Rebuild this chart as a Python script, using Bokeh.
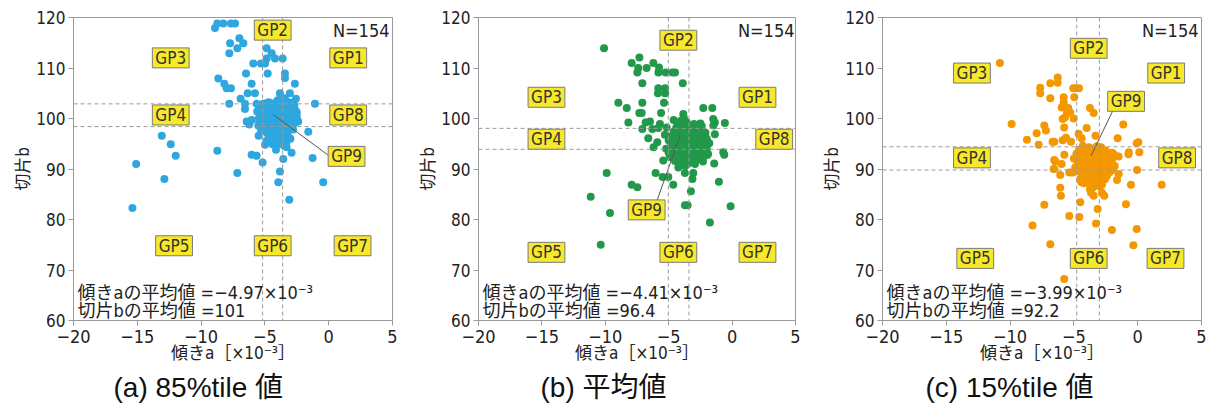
from bokeh.plotting import figure
from bokeh.models import Label, Span, Range1d, FixedTicker, Title
from bokeh.layouts import row
from bokeh.embed import file_html
from bokeh.resources import INLINE

NARROW = "'Liberation Sans Narrow', 'DejaVu Sans Condensed', 'Noto Sans CJK JP', sans-serif"
CAPF = "'Liberation Sans', Arial, 'Noto Sans CJK JP', sans-serif"

x_ticks = [-20, -15, -10, -5, 0, 5]
x_tick_labels = ["\u221220", "\u221215", "\u221210", "\u22125", "0", "5"]
y_ticks = [60, 70, 80, 90, 100, 110, 120]
gp_names = ["GP1", "GP2", "GP3", "GP4", "GP5", "GP6", "GP7", "GP8", "GP9"]

# ---------------- panel (a) 85%tile ----------------
a_points = [
    (-8.91, 117.9), (-8.73, 118.8), (-8.26, 118.8), (-7.66, 118.8), (-7.34, 118.8),
    (-7.73, 114.9), (-7.0, 115.9), (-6.69, 114.9), (-7.79, 112.9), (-7.16, 113.9),
    (-4.86, 113.9), (-4.47, 112.9), (-4.21, 111.9), (-3.61, 111.9), (-4.86, 111.9),
    (-5.91, 110.9), (-5.31, 110.9), (-4.99, 110.9), (-6.48, 108.9), (-4.78, 108.9),
    (-3.43, 108.9), (-3.43, 108.0), (-8.65, 107.9), (-8.18, 106.9), (-8.0, 106.0),
    (-7.66, 106.0), (-6.04, 106.9), (-2.65, 106.9), (-6.35, 105.0), (-5.78, 105.0),
    (-3.82, 105.0), (-3.04, 105.0), (-3.48, 104.0), (-6.9, 103.9), (-2.57, 103.9),
    (-7.79, 102.9), (-6.56, 102.9), (-5.65, 102.9), (-5.13, 102.9), (-6.56, 101.9),
    (-5.39, 101.9), (-1.08, 102.9), (-6.43, 99.4), (-6.22, 98.8), (-6.04, 99.7),
    (-5.52, 98.6), (-5.49, 96.6), (-2.39, 99.4), (-1.6, 97.4), (-1.26, 92.2),
    (-0.43, 87.4), (-13.08, 96.6), (-12.38, 94.9), (-11.99, 92.6), (-15.09, 91.0),
    (-12.88, 88.0), (-15.38, 82.3), (-8.73, 93.6), (-7.16, 89.2), (-6.04, 92.8),
    (-5.65, 92.6), (-5.18, 91.3), (-4.99, 94.8), (-4.13, 94.8), (-4.13, 93.8),
    (-3.56, 92.0), (-2.91, 93.2), (-3.82, 89.5), (-3.95, 87.4), (-3.09, 83.9),
    (-3.3, 94.3), (-4.86, 95.6),
    (-4.7, 103.2), (-4.3, 103.0), (-3.9, 103.3), (-3.5, 102.8), (-3.0, 103.1), (-2.7, 102.6),
    (-5.0, 102.4), (-4.5, 102.2), (-4.1, 102.5), (-3.7, 102.1), (-3.3, 102.4), (-2.9, 102.0),
    (-2.6, 101.6), (-4.8, 101.7), (-4.4, 101.5), (-4.0, 101.8), (-3.6, 101.4), (-3.2, 101.7),
    (-2.8, 101.3), (-5.2, 101.1), (-4.6, 100.9), (-4.2, 101.0), (-3.8, 100.7), (-3.4, 100.9),
    (-3.0, 100.6), (-2.6, 100.8), (-5.4, 100.4), (-5.0, 100.2), (-4.6, 100.3), (-4.3, 100.0),
    (-3.9, 100.2), (-3.5, 99.9), (-3.1, 100.1), (-2.7, 99.7), (-5.2, 99.5), (-4.8, 99.6),
    (-4.4, 99.3), (-4.0, 99.5), (-3.6, 99.2), (-3.2, 99.4), (-2.9, 98.9), (-5.4, 98.8),
    (-5.0, 98.9), (-4.6, 98.6), (-4.2, 98.8), (-3.8, 98.5), (-3.4, 98.7), (-3.0, 98.2),
    (-5.1, 98.1), (-4.7, 97.9), (-4.3, 98.1), (-3.9, 97.8), (-3.5, 97.9), (-3.2, 97.5),
    (-4.9, 97.3), (-4.5, 97.1), (-4.1, 97.4), (-3.7, 97.0), (-3.4, 97.2), (-4.7, 96.5),
    (-4.3, 96.3), (-3.9, 96.6), (-3.6, 96.2), (-3.2, 96.5), (-4.5, 95.7), (-4.0, 95.5),
    (-3.7, 95.8), (-3.3, 95.4), (-4.4, 94.9), (-3.9, 95.0), (-3.5, 94.6), (-2.8, 97.8),
    (-2.7, 99.0), (-5.5, 99.9), (-5.3, 97.6), (-4.0, 103.6), (-3.3, 103.4), (-2.5, 101.2),
    (-2.5, 100.3), (-3.0, 96.0), (-5.6, 101.4), (-4.9, 103.0),
]
a_vlines = [-5.18, -3.61]
a_hlines = [102.9, 98.4]
a_gp_x = [1.53, -4.39, -12.38, -12.38, -12.12, -4.39, 1.87, 1.53, 1.40]
a_gp_y = [112.0, 117.5, 112.0, 100.7, 74.8, 74.8, 74.8, 100.7, 92.5]
a_leader = (0.09, 92.5, -4.34, 100.75)
a_mean_a = "\u22124.97"
a_mean_b = "101"
a_caption = "(a) 85%tile 値"

# ---------------- panel (b) mean ----------------
b_points = [
    (-10.1, 113.9), (-7.92, 111.0), (-7.31, 112.1), (-7.4, 110.0), (-7.47, 109.1), (-6.74, 110.0),
    (-6.21, 111.0), (-5.76, 110.1), (-5.81, 109.1), (-5.24, 109.1), (-4.71, 109.1), (-4.5, 109.1),
    (-7.08, 107.0), (-3.89, 107.0), (-5.82, 106.0), (-5.28, 106.0), (-5.85, 105.0), (-5.28, 105.0),
    (-8.97, 103.1), (-8.31, 102.1), (-7.08, 103.1), (-5.37, 103.1), (-7.32, 101.1), (-7.13, 101.1),
    (-5.6, 101.1), (-8.18, 99.2), (-6.82, 99.2), (-6.48, 99.4), (-5.69, 98.9), (-5.16, 98.2),
    (-4.61, 99.7), (-3.85, 100.9), (-3.85, 99.9), (-7.08, 97.9), (-6.29, 97.9), (-5.82, 98.1),
    (-6.61, 96.1), (-6.19, 94.3), (-5.9, 95.3), (-2.27, 102.1), (-1.56, 102.1), (-1.49, 99.9),
    (-1.36, 99.2), (-1.48, 98.6), (-0.57, 99.1), (-1.36, 96.9), (-0.7, 93.3), (-0.62, 92.8),
    (-1.41, 91.1), (-1.04, 87.5), (-1.93, 92.8), (-2.14, 92.6), (-2.93, 91.0), (-3.06, 89.2),
    (-3.13, 88.0), (-3.25, 85.6), (-3.72, 82.8), (-3.51, 82.8), (-1.75, 79.4), (-0.12, 82.6),
    (-5.43, 91.7), (-6.03, 89.2), (-5.48, 88.4), (-5.03, 88.4), (-4.64, 86.9), (-3.72, 89.2),
    (-4.24, 90.3), (-9.89, 89.2), (-7.92, 86.9), (-7.47, 86.4), (-11.15, 84.5), (-9.63, 81.3),
    (-10.36, 75.0),
    (-4.0, 99.6), (-3.6, 99.3), (-3.9, 98.8), (-3.2, 98.6), (-2.8, 98.3), (-2.4, 98.5),
    (-4.4, 98.2), (-4.0, 97.9), (-3.6, 98.1), (-3.2, 97.7), (-2.8, 97.5), (-2.4, 97.8),
    (-2.1, 97.2), (-4.6, 97.4), (-4.2, 97.1), (-3.8, 97.3), (-3.4, 96.9), (-3.0, 97.0),
    (-2.6, 96.7), (-2.2, 96.5), (-4.8, 96.5), (-4.4, 96.3), (-4.0, 96.6), (-3.6, 96.2),
    (-3.2, 96.4), (-2.8, 96.0), (-2.4, 95.8), (-2.0, 96.0), (-5.0, 95.7), (-4.6, 95.5),
    (-4.2, 95.8), (-3.8, 95.4), (-3.4, 95.6), (-3.0, 95.2), (-2.6, 95.3), (-2.2, 94.9),
    (-4.8, 94.8), (-4.4, 94.6), (-4.0, 94.9), (-3.6, 94.5), (-3.2, 94.7), (-2.8, 94.3),
    (-2.4, 94.5), (-2.0, 94.1), (-5.2, 94.0), (-4.6, 93.8), (-4.2, 94.1), (-3.8, 93.6),
    (-3.4, 93.9), (-3.0, 93.5), (-2.6, 93.7), (-2.2, 93.3), (-4.4, 93.0), (-4.0, 92.8),
    (-3.6, 93.1), (-3.2, 92.7), (-2.8, 92.9), (-2.4, 92.5), (-4.2, 92.2), (-3.8, 91.9),
    (-3.4, 92.3), (-3.0, 91.8), (-2.6, 92.0), (-4.0, 91.3), (-3.5, 91.0), (-3.1, 91.4),
    (-4.5, 91.6), (-3.7, 90.6), (-5.3, 96.8), (-5.0, 93.2), (-1.8, 95.1), (-1.9, 93.0),
    (-3.0, 98.9), (-3.8, 100.1), (-4.9, 92.4), (-2.3, 91.5), (-4.3, 99.2), (-2.5, 99.0),
]
b_vlines = [-5.03, -3.40]
b_hlines = [98.05, 93.9]
b_gp_x = [2.0, -4.24, -14.64, -14.64, -14.64, -4.24, 2.0, 3.32, -6.74]
b_gp_y = [104.2, 115.5, 104.2, 95.9, 73.5, 73.5, 73.5, 95.9, 81.9]
b_leader = (-5.9, 83.9, -4.11, 96.6)
b_mean_a = "\u22124.41"
b_mean_b = "96.4"
b_caption = "(b)  平均値"

# ---------------- panel (c) 15%tile ----------------
c_points = [
    (-10.8, 111.0), (-9.88, 98.9), (-8.68, 95.8), (-7.92, 97.1), (-7.76, 94.8), (-7.64, 106.1),
    (-7.64, 105.0), (-7.32, 98.6), (-7.19, 97.6), (-6.85, 107.0), (-6.85, 104.0), (-6.67, 95.4),
    (-6.54, 95.4), (-6.27, 108.1), (-6.27, 107.1), (-5.8, 104.2), (-5.8, 103.2), (-5.96, 102.2),
    (-5.44, 102.1), (-5.29, 101.2), (-5.54, 101.1), (-5.7, 100.2), (-5.02, 100.0), (-5.88, 99.9),
    (-4.97, 104.2), (-4.84, 106.0), (-4.6, 106.0), (-5.05, 106.0), (-3.74, 102.1), (-3.45, 101.1),
    (-5.76, 98.2), (-5.62, 96.2), (-5.88, 95.7), (-5.23, 95.4), (-4.63, 97.0), (-4.0, 98.1),
    (-4.39, 96.1), (-1.13, 98.8), (-1.57, 96.1), (-0.08, 95.1), (0.05, 95.3), (-0.7, 93.3),
    (-0.72, 92.9), (0.13, 93.3), (-0.05, 89.8), (-6.54, 91.8), (-6.45, 91.5), (-6.53, 90.0),
    (-6.59, 90.0), (-5.96, 91.0), (-5.75, 92.8), (-6.07, 88.8), (-6.07, 86.3), (-6.02, 84.7),
    (-7.32, 82.9), (-8.24, 78.8), (-6.85, 75.1), (-5.76, 68.2), (-5.36, 80.7), (-4.5, 83.4),
    (-4.58, 80.5), (-3.14, 82.1), (-3.27, 79.2), (-2.02, 77.9), (-0.08, 78.1), (-0.34, 74.9),
    (-0.92, 83.0), (-0.53, 86.9), (1.88, 86.9), (-1.62, 87.8), (-1.49, 89.0), (-3.74, 86.0),
    (-3.66, 85.3), (-3.45, 84.7), (-2.8, 85.3), (-2.62, 84.7), (-5.36, 89.3), (-5.1, 89.3),
    (-4.45, 87.7), (-3.3, 96.6), (-2.87, 94.3), (-1.5, 92.5), (-1.9, 92.9),
    (-4.3, 94.6), (-3.8, 94.3), (-3.2, 94.5), (-2.8, 94.0), (-4.6, 93.8), (-4.0, 93.6),
    (-3.5, 93.9), (-3.0, 93.4), (-2.5, 93.6), (-2.0, 93.2), (-4.8, 93.0), (-4.3, 92.8),
    (-3.8, 93.0), (-3.3, 92.6), (-2.8, 92.8), (-2.3, 92.4), (-1.8, 92.7), (-5.0, 92.1),
    (-4.5, 91.9), (-4.0, 92.2), (-3.5, 91.8), (-3.0, 92.0), (-2.5, 91.6), (-2.0, 91.9),
    (-4.7, 91.1), (-4.2, 91.3), (-3.7, 90.9), (-3.2, 91.1), (-2.7, 90.8), (-2.2, 91.0),
    (-1.8, 90.6), (-4.9, 90.3), (-4.4, 90.5), (-3.9, 90.1), (-3.4, 90.3), (-2.9, 89.9),
    (-2.4, 90.2), (-2.0, 89.8), (-4.6, 89.5), (-4.1, 89.7), (-3.6, 89.3), (-3.1, 89.5),
    (-2.6, 89.1), (-2.2, 89.4), (-4.3, 88.8), (-3.8, 88.6), (-3.3, 88.9), (-2.8, 88.5),
    (-2.4, 88.7), (-4.5, 88.0), (-4.0, 87.8), (-3.5, 88.1), (-3.0, 87.7), (-2.6, 87.9),
    (-4.2, 87.2), (-3.7, 87.0), (-3.2, 87.3), (-2.8, 86.9), (-3.5, 86.4), (-3.0, 86.6),
    (-3.9, 89.0), (-3.4, 89.8), (-2.9, 91.4), (-3.6, 92.4), (-4.1, 90.8), (-2.5, 88.3),
    (-3.2, 88.2), (-3.7, 88.3), (-2.7, 90.3), (-4.4, 87.4),
]
c_vlines = [-4.78, -3.00]
c_hlines = [94.4, 89.8]
c_gp_x = [2.23, -3.84, -12.99, -12.99, -12.73, -3.84, 2.18, 3.09, -0.91]
c_gp_y = [109.0, 113.9, 109.0, 92.2, 72.3, 72.3, 72.3, 92.2, 103.4]
c_leader = (-1.96, 101.5, -3.66, 92.6)
c_mean_a = "\u22123.99"
c_mean_b = "92.2"
c_caption = "(c) 15%tile 値"

n_text = "N=154"


def make_panel(points, color, vlines, hlines, gp_x, gp_y, leader, mean_a, mean_b,
               caption, cap_offset, total_width, border_left, border_right):
    p = figure(width=total_width, height=414, min_border_left=border_left,
               min_border_right=border_right, min_border_top=17, min_border_bottom=94,
               x_range=Range1d(-20, 5), y_range=Range1d(60, 120),
               output_backend="svg", toolbar_location=None)
    p.grid.visible = False
    p.outline_line_color = "#9a9a9a"
    p.background_fill_color = "white"
    for ax in (p.xaxis[0], p.yaxis[0]):
        ax.axis_line_color = "#9a9a9a"
        ax.major_tick_line_color = "#9a9a9a"
        ax.minor_tick_line_color = None
        ax.major_tick_out = 5
        ax.major_tick_in = 0
        ax.major_label_text_font = NARROW
        ax.major_label_text_font_size = "18px"
        ax.major_label_text_color = "#222222"
        ax.axis_label_text_font = NARROW
        ax.axis_label_text_font_size = "17px"
        ax.axis_label_text_font_style = "normal"
        ax.axis_label_text_color = "#222222"
    p.xaxis.ticker = FixedTicker(ticks=x_ticks)
    p.xaxis.major_label_overrides = {t: s for t, s in zip(x_ticks, x_tick_labels)}
    p.xaxis.major_label_standoff = 4
    p.xaxis.axis_label = "傾きa［×10⁻³］"
    p.xaxis.axis_label_standoff = -3
    p.yaxis.ticker = FixedTicker(ticks=y_ticks)
    p.yaxis.major_label_text_font_size = "17px"
    p.yaxis.major_label_standoff = 3
    p.yaxis.axis_label = "切片b"
    p.yaxis.axis_label_text_font_size = "17px"
    p.yaxis.axis_label_standoff = 0

    for v in vlines:
        p.add_layout(Span(location=v, dimension="height", line_color="#9a9a9a",
                          line_dash="4 3", line_width=1))
    for h in hlines:
        p.add_layout(Span(location=h, dimension="width", line_color="#9a9a9a",
                          line_dash="4 3", line_width=1))

    xs = [q[0] for q in points]
    ys = [q[1] for q in points]
    p.scatter(xs, ys, size=8, color=color, line_color=None)

    p.segment(x0=[leader[0]], y0=[leader[1]], x1=[leader[2]], y1=[leader[3]],
              line_color="#555555", line_width=1)

    for name, gx, gy in zip(gp_names, gp_x, gp_y):
        p.add_layout(Label(x=gx, y=gy, text=name, text_align="center",
                           text_baseline="middle", text_font=NARROW,
                           text_font_size="17px", text_color="#333333",
                           background_fill_color="#f7e82a",
                           border_line_color="#7a7a7a", border_line_width=1,
                           padding=(3, 0)))

    p.add_layout(Label(x=316, y=301, x_units="screen", y_units="screen", text=n_text,
                       text_align="right", text_baseline="top", text_font=NARROW,
                       text_font_size="18px", text_color="#222222"))
    p.add_layout(Label(x=4, y=18, x_units="screen", y_units="screen",
                       text="傾きaの平均値 =" + mean_a + "×10⁻³",
                       text_align="left", text_baseline="bottom", text_font=NARROW,
                       text_font_size="18px", text_color="#222222"))
    p.add_layout(Label(x=4, y=0, x_units="screen", y_units="screen",
                       text="切片bの平均値 =" + mean_b,
                       text_align="left", text_baseline="bottom", text_font=NARROW,
                       text_font_size="18px", text_color="#222222"))
    cap = Title(text=caption, align="left", offset=cap_offset, text_font=CAPF,
                text_font_size="28px", text_font_style="normal", text_color="#111111",
                standoff=8)
    p.add_layout(cap, "below")
    return p


pa = make_panel(a_points, "#2ea7e0", a_vlines, a_hlines, a_gp_x, a_gp_y, a_leader,
                a_mean_a, a_mean_b, a_caption, 40, 413, 73, 21)
pb = make_panel(b_points, "#22994a", b_vlines, b_hlines, b_gp_x, b_gp_y, b_leader,
                b_mean_a, b_mean_b, b_caption, 62, 404, 65, 22)
pc = make_panel(c_points, "#f39800", c_vlines, c_hlines, c_gp_x, c_gp_y, c_leader,
                c_mean_a, c_mean_b, c_caption, 43, 393, 65, 9)

layout = row(pa, pb, pc)
open("out.html", "w").write(file_html(layout, INLINE))
